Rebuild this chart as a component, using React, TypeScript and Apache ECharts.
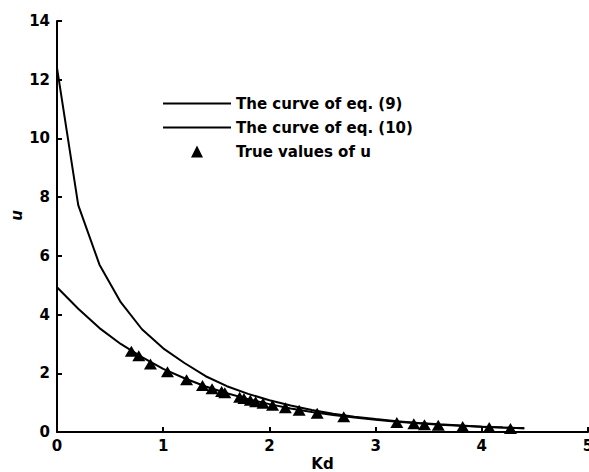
import React, { useEffect, useRef } from "react";
import * as echarts from "echarts";

const curveKd = [0, 0.2, 0.4, 0.6, 0.8, 1.0, 1.2, 1.4, 1.6, 1.8, 2.0, 2.2, 2.4, 2.6, 2.8, 3.0, 3.2, 3.4, 3.6, 3.8, 4.0, 4.2, 4.4];
const eq9U = [12.4, 7.73, 5.7, 4.42, 3.5, 2.85, 2.35, 1.9, 1.56, 1.3, 1.08, 0.9, 0.75, 0.62, 0.52, 0.44, 0.37, 0.31, 0.26, 0.22, 0.18, 0.15, 0.13];
const eq10U = [4.93, 4.2, 3.54, 3.0, 2.55, 2.15, 1.83, 1.55, 1.32, 1.12, 0.95, 0.8, 0.68, 0.58, 0.49, 0.42, 0.35, 0.3, 0.25, 0.21, 0.18, 0.15, 0.13];
const trueKd = [0.7, 0.77, 0.88, 1.04, 1.22, 1.37, 1.46, 1.55, 1.58, 1.72, 1.76, 1.82, 1.87, 1.94, 2.03, 2.15, 2.28, 2.45, 2.7, 3.2, 3.36, 3.46, 3.59, 3.82, 4.07, 4.27];
const trueU = [2.75, 2.6, 2.32, 2.05, 1.78, 1.58, 1.47, 1.38, 1.34, 1.18, 1.14, 1.08, 1.03, 0.98, 0.91, 0.83, 0.74, 0.64, 0.52, 0.32, 0.28, 0.25, 0.23, 0.19, 0.15, 0.12];
const seriesNames = ["The curve of eq. (9)", "The curve of eq. (10)", "True values of u"];

const FONT = "DejaVu Sans";

export default function App() {
  const ref = useRef<HTMLDivElement>(null);
  useEffect(() => {
    if (!ref.current) return;
    const chart = echarts.init(ref.current, null, { renderer: "svg" });
    const axisCommon = {
      axisLine: { show: true, lineStyle: { color: "#000", width: 2 } },
      axisTick: { show: true, inside: true, length: 5, lineStyle: { color: "#000", width: 2 } },
      splitLine: { show: false },
      nameMoveOverlap: false,
      axisLabel: { color: "#000", fontFamily: FONT, fontWeight: "bold", fontSize: 15 },
      nameTextStyle: { color: "#000", fontFamily: FONT, fontWeight: "bold", fontSize: 15 },
    };
    const lineIcon = "path://M0,0H68V2H0Z";
    chart.setOption({
      animation: false,
      backgroundColor: "#fff",
      grid: { left: 57, right: 1, top: 21, bottom: 40, containLabel: false, outerBoundsMode: "none" },
      legend: {
        orient: "vertical",
        left: 158,
        top: 91,
        itemWidth: 68,
        itemHeight: 12,
        itemGap: 9,
        selectedMode: false,
        textStyle: { color: "#000", fontFamily: FONT, fontWeight: "bold", fontSize: 15 },
        data: [
          { name: seriesNames[0], icon: lineIcon },
          { name: seriesNames[1], icon: lineIcon },
          { name: seriesNames[2], icon: "path://M0,-1L1,1L-1,1Z" },
        ],
      },
      xAxis: {
        type: "value",
        min: 0,
        max: 5,
        interval: 1,
        name: "Kd",
        nameLocation: "middle",
        nameGap: 24,
        ...axisCommon,
        axisLabel: { ...axisCommon.axisLabel, margin: 6 },
      },
      yAxis: {
        type: "value",
        min: 0,
        max: 14,
        interval: 2,
        name: "u",
        nameLocation: "middle",
        nameGap: 33,
        ...axisCommon,
        axisLabel: { ...axisCommon.axisLabel, margin: 7 },
        nameTextStyle: { ...axisCommon.nameTextStyle, fontStyle: "italic", padding: [0, 0, 0, 22] },
      },
      series: [
        {
          name: seriesNames[0],
          type: "line",
          data: curveKd.map((k, i) => [k, eq9U[i]]),
          symbol: "none",
          lineStyle: { color: "#000", width: 2 },
          itemStyle: { color: "#000" },
          z: 2,
        },
        {
          name: seriesNames[1],
          type: "line",
          data: curveKd.map((k, i) => [k, eq10U[i]]),
          symbol: "none",
          lineStyle: { color: "#000", width: 2 },
          itemStyle: { color: "#000" },
          z: 2,
        },
        {
          name: seriesNames[2],
          type: "scatter",
          data: trueKd.map((k, i) => [k, trueU[i]]),
          symbol: "triangle",
          symbolSize: [13, 11],
          itemStyle: { color: "#000", opacity: 1 },
          z: 3,
        },
      ],
    });
    return () => chart.dispose();
  }, []);
  return (
    <div
      ref={ref}
      style={{ position: "fixed", left: 0, top: 0, width: 589, height: 472, background: "#fff" }}
    />
  );
}
